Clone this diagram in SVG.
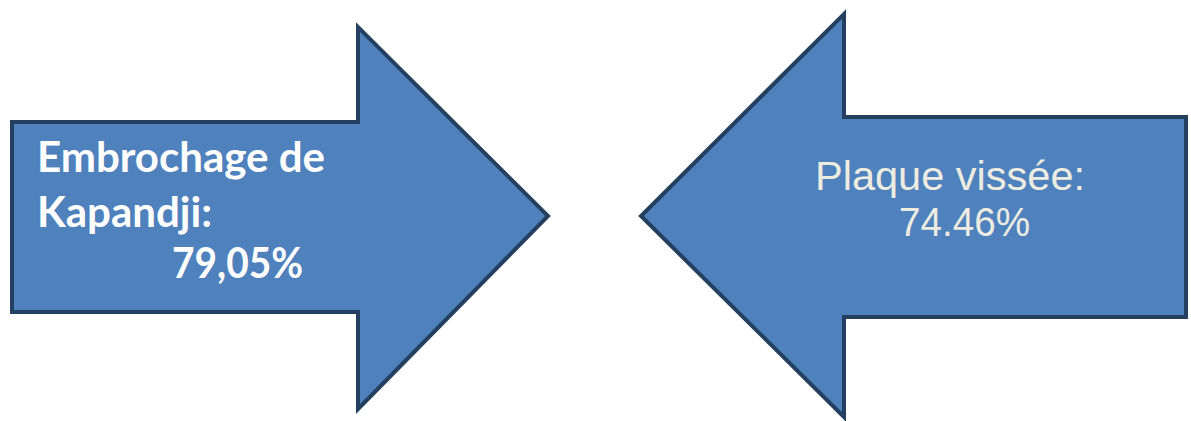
<svg xmlns="http://www.w3.org/2000/svg" width="1191" height="421" viewBox="0 0 1191 421">
<style>
.arrow{fill:#4f81bd;stroke:#243f60;stroke-width:4;stroke-linejoin:miter}
.lt{font-family:Lato,"Open Sans",sans-serif;font-weight:bold;font-size:42px;fill:#ffffff}
.rt{font-family:"Liberation Sans",Arial,sans-serif;font-size:40px;fill:#eeece1}
</style>
<rect width="1191" height="421" fill="#ffffff"/>
<g id="left-arrow">
<polygon class="arrow" points="12,122 358,122 358,27 548,216 358,409 358,312 12,312"/>
<text class="lt" x="37" y="172" textLength="288" lengthAdjust="spacingAndGlyphs">Embrochage de</text>
<text class="lt" x="37" y="227" textLength="175" lengthAdjust="spacingAndGlyphs">Kapandji:</text>
<text class="lt" x="172" y="278" textLength="131" lengthAdjust="spacingAndGlyphs">79,05%</text>
</g>
<g id="right-arrow">
<polygon class="arrow" points="1186,117 844,117 844,14 641,216 844,417 844,317 1186,317"/>
<text class="rt" x="815" y="190" textLength="270" lengthAdjust="spacingAndGlyphs">Plaque vissée:</text>
<text class="rt" x="899" y="236" textLength="131" lengthAdjust="spacingAndGlyphs">74.46%</text>
</g>
<g id="connectors"/>
</svg>
